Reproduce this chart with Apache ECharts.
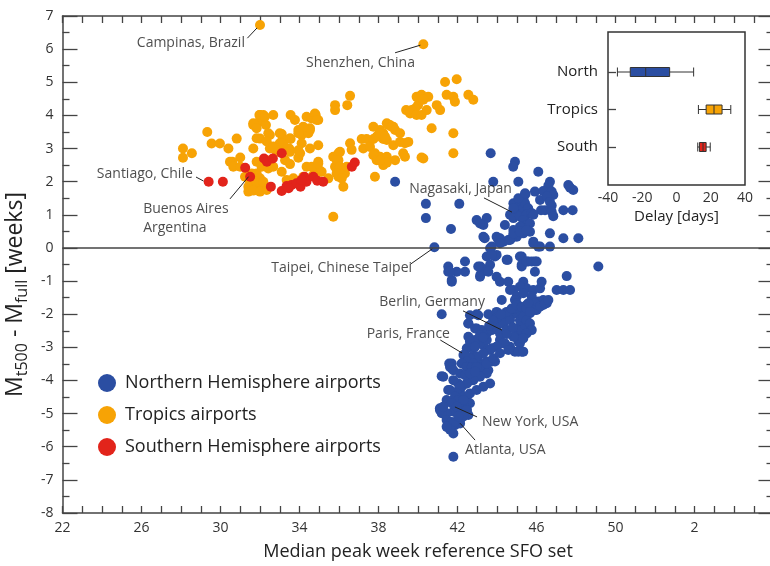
<!DOCTYPE html>
<html><head><meta charset="utf-8">
<script src="https://cdn.jsdelivr.net/npm/echarts@6.0.0/dist/echarts.min.js"></script>
<style>html,body{margin:0;padding:0;background:#fff}#c{width:770px;height:566px}</style>
</head><body><div id="c"></div>
<script>
// ---------- data ----------
const northPoints = [
[43.68,2.86],[38.84,2.0],[44.91,2.6],[44.82,2.45],[46.09,2.3],[46.68,2.0],[46.6,1.88],[47.61,1.9],[47.86,1.75],[47.7,1.82],[43.81,2.0],[45.08,2.0],
[45.92,1.7],[46.34,1.72],[46.77,1.7],[46.85,1.6],[45.44,1.62],[45.35,1.45],[46.18,1.45],[46.52,1.55],[46.68,1.39],[46.43,1.14],[46.77,1.28],[46.77,1.09],[46.85,0.96],[47.36,1.14],[47.83,1.14],[46.23,1.14],
[40.4,1.33],[42.09,1.33],[40.4,0.9],[41.67,0.57],
[44.83,1.35],[45.0,1.2],[45.16,1.3],[45.25,1.15],[45.42,1.35],[45.58,1.2],[44.91,1.05],[44.66,1.0],[44.83,0.9],[45.16,0.95],[45.5,1.0],[45.76,1.05],[45.33,0.84],[45.5,0.69],[45.67,0.74],[45.16,0.64],[44.83,0.54],[45.0,0.34],[44.74,0.29],[45.33,0.44],[45.67,0.49],[44.57,0.24],[44.32,0.19],[44.07,0.24],[43.98,0.34],[44.15,0.29],[43.31,0.34],[42.97,0.84],[43.48,0.9],[43.31,0.69],[44.4,0.69],[45.84,0.19],[46.18,0.04],[46.68,0.04],[46.68,0.44],[47.36,0.29],[48.12,0.29],[43.65,-0.01],[40.83,0.02],
[45.08,1.5],[45.42,1.65],[44.83,1.2],[45.84,1.0],[43.38,0.29],[44.15,0.14],[44.66,0.24],[44.83,0.44],[45.16,0.49],[45.5,0.54],[43.73,0.04],[45.84,0.14],[46.09,0.04],[43.14,0.74],
[49.13,-0.56],[43.48,-0.26],[43.9,-0.26],[43.65,-0.51],[43.48,-0.66],[43.16,-0.56],[43.16,-0.81],[42.38,-0.41],[42.38,-0.72],[41.96,-0.72],[41.53,-0.56],[41.53,-0.72],[41.71,-0.97],[44.54,-0.36],[45.25,-0.26],[45.25,-0.56],[45.58,-0.41],[45.92,-0.41],[45.92,-0.72],[43.98,-0.87],[44.15,-1.02],[44.57,-1.02],
[45.33,-1.02],[45.5,-1.22],[45.16,-1.17],[44.83,-1.27],[44.66,-1.27],[45.0,-1.47],[45.33,-1.37],[45.84,-1.27],[46.18,-1.22],[46.26,-1.02],[46.34,-1.57],[46.52,-1.67],[46.18,-1.77],[46.01,-1.87],[46.09,-1.62],[45.76,-1.47],
[47.02,-1.27],[47.36,-1.27],[47.7,-1.27],[47.53,-0.85],[44.24,-1.57],[44.91,-1.57],[45.0,-1.67],[41.2,-2.0],[42.97,-2.0],[43.56,-2.0],
[42.55,-2.28],[42.97,-2.43],[43.22,-2.48],[43.48,-2.58],[43.73,-2.48],[43.9,-2.33],[44.15,-2.28],[44.4,-2.18],[44.66,-2.08],[44.91,-1.97],[45.16,-1.87],[45.5,-1.97],[45.33,-2.18],[45.16,-2.38],[45.42,-2.48],[45.33,-2.63],[45.08,-2.83],[45.25,-3.13],[44.91,-3.13],[44.66,-2.98],[44.4,-2.88],[44.15,-2.78],[43.98,-2.98],[43.73,-3.03],[43.48,-3.08],[43.31,-2.93],[43.14,-2.88],[42.89,-2.78],[42.63,-2.98],[42.47,-3.03],[42.3,-3.23],[42.55,-3.33],[42.8,-3.23],[43.05,-3.28],[43.14,-3.49],[43.48,-3.43],[43.73,-3.43],[43.9,-3.43],[43.56,-3.69],[43.14,-3.74],[42.97,-3.89],[42.72,-3.99],[42.47,-4.09],[42.21,-4.19],[42.04,-4.09],[41.79,-3.99],[41.96,-4.34],[42.21,-4.44],[42.47,-4.49],[42.63,-4.69],[42.3,-4.74],[42.13,-4.84],[41.79,-4.94],[41.45,-4.99],[41.11,-4.84],[41.2,-4.99],[41.45,-5.19],[41.71,-5.25],[41.53,-5.4],[41.87,-5.35],[42.13,-5.3],[41.79,-5.6],[41.79,-6.3],[41.58,-3.49],[41.71,-3.64],[41.2,-3.87],[41.53,-4.29],
[41.62,-0.72],[43.05,-0.56],[43.14,-0.87],[43.56,-0.72],[43.98,-0.21],[43.73,-0.21],[44.49,-0.36],[45.16,-0.26],[45.25,-0.51],[45.5,-0.41],[45.76,-0.41],[46.01,-0.41],[41.71,-1.02],
[42.63,-2.03],[43.05,-2.03],[43.98,-1.93],[44.32,-2.03],[44.57,-1.93],[44.91,-1.83],[45.16,-1.78],[45.5,-1.72],[45.92,-1.67],[46.34,-1.72],[46.52,-1.62],
[45.16,-2.88],[45.08,-3.13],[45.33,-3.13],[45.0,-2.58],[45.25,-2.48],[45.42,-2.33],[45.16,-2.18],
[43.98,-2.38],[44.15,-2.58],[44.32,-2.28],[44.66,-2.18],[44.49,-2.48],[44.83,-2.68],[44.32,-2.88],[43.98,-2.98],[43.65,-3.08],[43.31,-3.18],[42.97,-3.28],[42.63,-3.33],[42.38,-3.23],[42.47,-3.43],[42.8,-3.49],[43.14,-3.59],[43.48,-3.49],[43.81,-3.33],[44.15,-3.18],[44.57,-3.08],[43.48,-3.79],[43.14,-3.89],[42.8,-3.99],[42.47,-4.09],[42.13,-4.19],[41.96,-4.39],[42.3,-4.49],[42.63,-4.39],[42.97,-4.29],[43.31,-4.19],[43.65,-4.09],[41.71,-3.49],[41.62,-3.59],[41.79,-3.69],[41.28,-3.89],[41.62,-4.29],[41.45,-4.59],[41.79,-4.69],[42.13,-4.79],[42.47,-4.89],[42.3,-5.04],[42.13,-5.19],[41.79,-5.3],[41.62,-5.49],[41.45,-5.4],[41.11,-4.89],[41.28,-4.79],
[42.55,-2.28],[42.89,-2.43],[43.14,-2.63],[43.48,-2.78],
[45.67,-1.97],[45.92,-1.87],[46.18,-1.77],[46.43,-1.67],[46.6,-1.57],
[45.33,-2.08],[45.5,-2.18],[45.67,-2.28],[45.76,-2.48],[45.5,-2.58],[45.33,-2.73],
[44.49,-1.93],[44.74,-1.83],[45.0,-1.72],[45.25,-1.78],[45.5,-1.83],[45.58,-1.67],[45.67,-1.93],
[42.55,-2.68],[42.63,-2.83],[42.89,-2.98],
[42.21,-3.49],[42.47,-3.59],[42.72,-3.59],[42.97,-3.59],
[42.13,-3.79],[42.38,-3.84],[42.63,-3.79],[42.89,-3.74],
[41.87,-4.49],[42.04,-4.59],[42.3,-4.59],[41.71,-4.69],[41.96,-4.79],[42.21,-4.99],[42.47,-4.89],[42.55,-5.04],[42.3,-5.09],[42.04,-5.09],
[44.0,-2.1],[44.2,-2.0],[43.8,-2.2],[44.5,-2.6],[44.8,-2.4],[43.6,-2.35],[43.3,-2.7]
];

const tropicsPoints = [
[32.0,6.73],[40.27,6.15],
[28.1,3.0],[28.1,2.72],[28.55,2.86],
[29.33,3.5],[29.55,3.15],[29.97,3.15],[30.4,3.0],[30.82,3.3],[31.0,2.73],[30.6,2.6],
[31.97,4.01],[32.17,4.01],[32.67,4.01],[31.66,3.71],[31.97,3.82],[32.3,3.71],
[33.55,4.01],[33.77,3.86],[34.82,4.01],[34.95,3.86],
[31.66,3.0],[32.0,3.3],[32.5,3.41],[33.1,3.44],[33.15,3.29],[33.55,3.29],
[33.94,3.56],[34.11,3.41],[34.53,3.56],[32.5,3.0],[33.1,3.0],[33.48,3.0],[33.0,3.16],
[31.83,2.6],[32.08,2.45],[32.42,2.4],[32.67,2.45],
[33.94,2.72],[34.95,2.6],[35.0,2.35],[34.36,2.45],[34.62,2.45],
[35.71,2.75],[36.05,2.9],[35.97,2.65],[35.8,2.45],
[36.56,3.16],[36.64,2.96],
[37.15,3.29],[37.4,3.29],[37.74,3.29],[37.99,3.41],[38.24,3.29],
[37.23,3.0],[37.57,3.05],[37.82,2.86],[38.08,2.75],[38.42,2.75],[37.74,2.8],[38.24,2.5],[37.91,2.65],
[38.58,3.71],[38.75,3.66],[38.08,3.56],[37.74,3.66],[38.42,3.76],[38.24,3.46],[37.91,3.36],[38.42,3.26],[38.75,3.1],[39.09,3.2],
[35.97,2.15],[36.22,2.3],[36.22,1.85],[37.82,2.15],
[31.41,1.85],[31.75,1.85],[31.91,1.75],[32.08,1.95],[31.49,2.0],[32.0,2.1],[31.58,2.25],[31.24,2.15],[31.41,1.7],[31.83,2.0],[31.66,1.73],
[32.17,2.0],[32.0,1.7],[32.34,1.75],[31.83,2.25],
[33.35,2.05],[33.69,2.1],[33.1,2.3],
[35.71,0.94],
[35.8,4.31],[35.8,4.16],[36.42,4.31],[36.56,4.59],
[41.37,5.01],[41.96,5.09],[41.45,4.62],[41.79,4.56],[41.87,4.41],[42.55,4.62],[42.8,4.47],
[40.0,4.31],[39.85,4.21],[39.68,4.16],[39.4,4.16],[39.6,4.06],[39.93,4.01],[40.18,4.01],[40.44,4.16],
[39.93,4.56],[40.18,4.62],[40.52,4.56],[40.27,4.47],[40.95,4.31],[41.12,4.16],
[40.69,3.61],[41.79,3.46],[41.79,2.86],[40.27,2.7],[38.84,2.65],
[38.5,3.71],[38.67,3.66],[38.84,3.56],[38.08,3.46],[38.33,3.36],[39.09,3.46],[39.34,3.16],[39.51,3.2],[39.25,2.86],[39.34,2.75],[38.42,2.57],[38.08,2.65],[40.18,2.73],
[35.97,2.86],[35.88,2.65],[36.05,2.45],[35.88,2.25],[36.3,2.25],[36.39,2.45],[36.14,2.1],
[35.04,2.3],[34.7,2.2],[34.19,2.15],
[30.48,2.6],[30.65,2.45],[31.0,2.45],
[31.66,3.76],[32.0,4.01],[32.25,3.96],[31.83,3.61],[32.42,3.46],[33.0,3.46],[33.18,3.16],[33.52,3.31],[32.34,3.21],[32.85,2.9],[31.83,3.31],[32.67,3.06],[32.34,2.65],[33.27,2.65],[33.52,2.9],[34.03,2.86],[33.52,2.53],
[34.36,3.96],[34.62,3.91],[34.78,4.06],[34.87,3.86],[34.45,3.46],[34.53,3.61],[34.19,3.66],[33.94,3.46],[34.11,3.16],[33.94,2.95],[34.53,3.0],[34.95,3.1],[34.95,2.55],[35.12,2.3],[35.46,2.1]
];

const southPoints = [
[29.4,2.0],[30.12,2.0],[31.25,2.42],[31.5,2.15],[32.2,2.7],[32.35,2.6],[32.65,2.7],[33.1,2.86],[32.55,1.85],[33.1,1.72],
[33.35,1.87],[33.6,1.9],[33.85,1.95],[34.05,1.85],[34.25,2.15],[34.35,2.0],[34.7,2.15],[34.9,2.03],[35.2,2.0],[36.65,2.45],[36.8,2.58],[33.45,1.8],[34.1,2.05]
];

// inset: delay [days] per group  [min, Q1, median, Q3, max]
const insetCategories = ['South', 'Tropics', 'North'];
const southBox   = [12.4, 13.4, 15.5, 17.3, 19.7];
const tropicsBox = [12.8, 17.3, 21.9, 26.6, 31.7];
const northBox   = [-34.5, -27.0, -18.0, -4.0, 10.0];

const seriesNames = ['Northern Hemisphere airports', 'Tropics airports', 'Southern Hemisphere airports'];

// annotations: label text, anchor of text, side, leader line from -> to
const annotations = [
  {text:'Campinas, Brazil', at:[31.24,6.19], side:'left', from:[31.36,6.33], to:[31.85,6.64]},
  {text:'Shenzhen, China', at:[39.85,5.58], side:'left', from:[38.84,5.89], to:[40.12,6.12]},
  {text:'Santiago, Chile', at:[28.6,2.22], side:'left', from:[28.76,2.14], to:[29.14,2.02]},
  {text:'Buenos Aires\nArgentina', at:[26.08,0.9], side:'right', from:[30.48,1.48], to:[31.42,2.15]},
  {text:'Taipei, Chinese Taipei', at:[39.7,-0.61], side:'left', from:[39.62,-0.49], to:[40.72,-0.03]},
  {text:'Nagasaki, Japan', at:[44.76,1.78], side:'left', from:[43.34,1.51], to:[44.76,1.08]},
  {text:'Berlin, Germany', at:[43.39,-1.63], side:'left', from:[42.28,-1.9], to:[44.25,-2.48]},
  {text:'Paris, France', at:[41.62,-2.6], side:'left', from:[41.13,-2.78], to:[42.23,-3.17]},
  {text:'New York, USA', at:[43.24,-5.25], side:'right', from:[42.99,-5.1], to:[41.87,-4.8]},
  {text:'Atlanta, USA', at:[42.38,-6.1], side:'right', from:[42.89,-5.8], to:[42.13,-5.29]}
];

// ---------- chart ----------
const FONT = 'Open Sans';
const BLUE = '#2b4ea2', ORANGE = '#f7a305', RED = '#e2241b';
const axisLineStyle = {color:'#444', width:1.5};
const tickStyle = {color:'#444', width:1.3};

const chart = echarts.init(document.getElementById('c'));
chart.setOption({
  animation: false,
  textStyle: {fontFamily: FONT},
  grid: [
    {left:62.5, top:16, width:711, height:497, outerBoundsMode:'none', containLabel:false},
    {left:608, top:32, width:137, height:153, show:true, borderColor:'#333', borderWidth:1.5, backgroundColor:'rgba(0,0,0,0)', outerBoundsMode:'none'},
    {left:608, top:72, width:137, height:75, outerBoundsMode:'none'}
  ],
  legend: {
    data: seriesNames, orient:'vertical', left:98, top:374, padding:0,
    itemWidth:26, itemHeight:18, itemGap:14, icon:'circle',
    textStyle:{fontSize:18, color:'#222', fontFamily:FONT}
  },
  xAxis: [
    {gridIndex:0, type:'value', min:22, max:58, interval:1,
     axisLine:{onZero:false, lineStyle:axisLineStyle}, axisTick:{inside:true, length:7, lineStyle:tickStyle},
     splitLine:{show:false},
     axisLabel:{fontSize:14, color:'#333', margin:8, showMaxLabel:true, showMinLabel:true,
       formatter: v => ((v - 22) % 4 !== 0) ? '' : String(v > 52 ? v - 52 : v)},
     name:'Median peak week reference SFO set', nameLocation:'middle', nameGap:30,
     nameTextStyle:{fontSize:18, color:'#222'}},
    {gridIndex:0, type:'value', position:'top', min:22, max:58, interval:1,
     axisLine:{onZero:false, lineStyle:axisLineStyle}, axisTick:{inside:true, length:7, lineStyle:tickStyle},
     splitLine:{show:false}, axisLabel:{show:false}},
    {gridIndex:2, type:'value', min:-40, max:40, interval:10, offset:38,
     axisLine:{show:false, onZero:false}, axisTick:{inside:true, length:6, lineStyle:tickStyle},
     splitLine:{show:false},
     axisLabel:{fontSize:14, color:'#333', margin:6, formatter: v => (v % 20 === 0 ? String(v) : '')},
     name:'Delay [days]', nameLocation:'middle', nameGap:24, nameTextStyle:{fontSize:15, color:'#222'}}
  ],
  yAxis: [
    {gridIndex:0, type:'value', min:-8, max:7, interval:1,
     axisLine:{onZero:false, lineStyle:axisLineStyle}, axisTick:{inside:true, length:15, lineStyle:tickStyle},
     minorTick:{show:true, splitNumber:2, length:7, lineStyle:tickStyle},
     splitLine:{show:false}, minorSplitLine:{show:false},
     axisLabel:{fontSize:14, color:'#333', margin:9},
     name:'{m|M}{s|t500}{m| - M}{s|full}{m| [weeks]}', nameLocation:'middle', nameGap:29,
     nameTextStyle:{color:'#222', padding:[0,60,0,0], rich:{
       m:{fontSize:23, lineHeight:30, color:'#222', fontFamily:FONT},
       s:{fontSize:16, lineHeight:17, verticalAlign:'bottom', color:'#222', fontFamily:FONT}}}},
    {gridIndex:0, type:'value', position:'right', min:-8, max:7, interval:1,
     axisLine:{onZero:false, lineStyle:axisLineStyle}, axisTick:{inside:true, length:15, lineStyle:tickStyle},
     minorTick:{show:true, splitNumber:2, length:7, lineStyle:tickStyle},
     splitLine:{show:false}, axisLabel:{show:false}},
    {gridIndex:2, type:'category', data:insetCategories, boundaryGap:false,
     axisLine:{show:false, onZero:false}, axisTick:{inside:true, length:8, lineStyle:tickStyle},
     axisLabel:{fontSize:15, color:'#222', margin:10}}
  ],
  series: [
    {type:'scatter', name:seriesNames[0], xAxisIndex:0, yAxisIndex:0, data:northPoints,
     symbolSize:10, itemStyle:{color:BLUE, opacity:1}, z:3,
     markLine:{silent:true, symbol:['none','none'], label:{show:false},
       lineStyle:{color:'#444', width:1.5, type:'solid'}, data:[{yAxis:0}]}},
    {type:'scatter', name:seriesNames[1], xAxisIndex:0, yAxisIndex:0, data:tropicsPoints,
     symbolSize:10, itemStyle:{color:ORANGE, opacity:1}, z:3},
    {type:'scatter', name:seriesNames[2], xAxisIndex:0, yAxisIndex:0, data:southPoints,
     symbolSize:10, itemStyle:{color:RED, opacity:1}, z:4},
    {type:'scatter', name:'notes', xAxisIndex:0, yAxisIndex:0, silent:true, z:5,
     symbolSize:0.1, itemStyle:{color:'rgba(0,0,0,0)'},
     data: annotations.map(a => ({value:a.at, label:{show:true, formatter:a.text,
        position:a.side, distance:0, align: a.side === 'left' ? 'right' : 'left',
        fontSize:14, lineHeight:19, color:'#222', fontFamily:FONT}})),
     markLine:{silent:true, symbol:['none','none'], label:{show:false},
       lineStyle:{color:'#222', width:1, type:'solid'},
       data: annotations.map(a => [{coord:a.from}, {coord:a.to}])}},
    {type:'boxplot', name:'delay', xAxisIndex:2, yAxisIndex:2, boxWidth:[9,9], silent:true,
     itemStyle:{borderColor:'#333', borderWidth:1},
     data:[
       {value:southBox, itemStyle:{color:RED}},
       {value:tropicsBox, itemStyle:{color:ORANGE}},
       {value:northBox, itemStyle:{color:BLUE}}
     ]}
  ]
});
</script>
</body></html>
